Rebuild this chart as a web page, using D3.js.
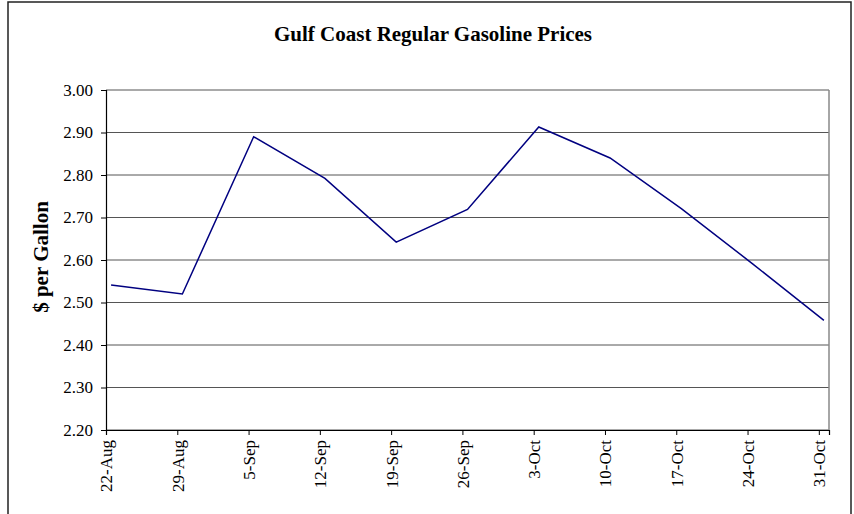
<!DOCTYPE html>
<html><head><meta charset="utf-8">
<script src="https://cdn.jsdelivr.net/npm/d3@7"></script>
<style>body{margin:0;background:#fff;} svg{display:block;}</style>
</head><body>
<svg id="c" width="854" height="514"></svg>
<script>
const dates = ["2005-08-22","2005-08-29","2005-09-05","2005-09-12","2005-09-19","2005-09-26","2005-10-03","2005-10-10","2005-10-17","2005-10-24","2005-10-31"];
const tickLabels = ["22-Aug","29-Aug","5-Sep","12-Sep","19-Sep","26-Sep","3-Oct","10-Oct","17-Oct","24-Oct","31-Oct"];
const prices = [2.541, 2.520, 2.890, 2.792, 2.642, 2.719, 2.913, 2.840, 2.721, 2.591, 2.458];
const yTicks = [2.20, 2.30, 2.40, 2.50, 2.60, 2.70, 2.80, 2.90, 3.00];

const svg = d3.select("#c");
const m = {l:106, t:90, r:829, b:430};
const parse = d3.timeParse("%Y-%m-%d");
const tDates = dates.map(parse);
const x = d3.scaleTime().domain([parse("2005-08-22"), parse("2005-11-01")]).range([m.l, m.r]);
const y = d3.scaleLinear().domain([2.2, 3.0]).range([m.b, m.t]);
const serif = "Liberation Serif, Times New Roman, serif";

// outer border
svg.append("rect").attr("x",8).attr("y",2).attr("width",843).attr("height",530)
  .attr("fill","none").attr("stroke","#222").attr("stroke-width",1.5);

// title
svg.append("text").attr("x",433).attr("y",41).attr("text-anchor","middle")
  .attr("font-family",serif).attr("font-weight","bold")
  .attr("font-size",21).text("Gulf Coast Regular Gasoline Prices");

// gridlines
svg.append("g").selectAll("line").data(yTicks).join("line")
  .attr("x1",m.l).attr("x2",m.r).attr("y1",d=>y(d)).attr("y2",d=>y(d))
  .attr("stroke","#555").attr("stroke-width",1);
// right border
svg.append("line").attr("x1",m.r).attr("x2",m.r).attr("y1",m.t).attr("y2",m.b)
  .attr("stroke","#888").attr("stroke-width",1.5);

// y axis
const yAxis = d3.axisLeft(y).tickValues(yTicks).tickFormat(d3.format(".2f")).tickSize(5).tickPadding(8);
const gy = svg.append("g").attr("transform",`translate(${m.l},0)`).call(yAxis);
gy.select(".domain").attr("stroke","#000").attr("stroke-width",1.2);
gy.selectAll(".tick line").attr("stroke","#000");
gy.selectAll("text").attr("font-family",serif).attr("font-size",17).attr("fill","#000");

// x axis
const xAxis = d3.axisBottom(x).tickValues(tDates).tickFormat((d,i)=>tickLabels[i]).tickSize(5);
const gx = svg.append("g").attr("transform",`translate(0,${m.b})`).call(xAxis);
gx.select(".domain").attr("stroke","#000").attr("stroke-width",1.2);
gx.selectAll(".tick line").attr("stroke","#000");
gx.selectAll("text").attr("font-family",serif).attr("font-size",17).attr("fill","#000")
  .attr("transform","rotate(-90)").attr("text-anchor","end").attr("x",-10).attr("y",0).attr("dy","0.35em");

// y title
svg.append("text").attr("transform","translate(48,257) rotate(-90)").attr("text-anchor","middle")
  .attr("font-family",serif).attr("font-weight","bold")
  .attr("font-size",21).text("$ per Gallon");

// line
const offset = 12*3600*1000;
const line = d3.line().x((d,i)=>x(new Date(tDates[i].getTime()+offset))).y(d=>y(d));
svg.append("path").datum(prices).attr("d",line).attr("fill","none")
  .attr("stroke","#000080").attr("stroke-width",1.5);
</script>
</body></html>
